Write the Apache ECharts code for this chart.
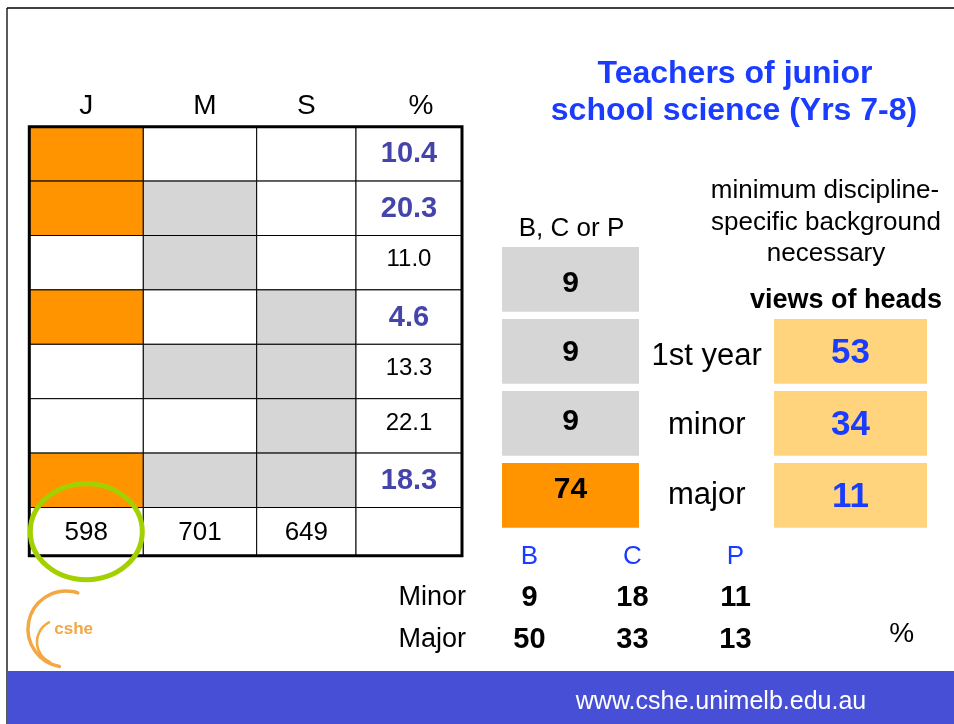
<!DOCTYPE html>
<html lang="en">
<head>
<meta charset="UTF-8">
<title>Teachers of junior school science (Yrs 7-8)</title>
<style>
  html, body { margin: 0; padding: 0; background: #fff; }
  #chart { width: 954px; height: 724px; }
</style>
<script src="https://cdn.jsdelivr.net/npm/echarts@6.0.0/dist/echarts.min.js"></script>
</head>
<body>
<div id="chart"></div>
<script>
// left table: which of J / M / S each group of teachers studied, and its share
var columns = ['J', 'M', 'S', '%'];
var hasJ = [1, 1, 0, 1, 0, 0, 1];
var hasM = [0, 1, 1, 0, 1, 0, 1];
var hasS = [0, 0, 0, 1, 1, 1, 1];
var percents = [10.4, 20.3, 11.0, 4.6, 13.3, 22.1, 18.3];
var totals = [598, 701, 649];
var circled = [[0, 7]];

// middle: B, C or P background and the heads' views
var levels = ['', '1st year', 'minor', 'major'];
var bcpValues = [9, 9, 9, 74];
var headViews = [null, 53, 34, 11];

// bottom: split by subject
var subjects = ['B', 'C', 'P'];
var studyLevels = ['Minor', 'Major'];
var minorPct = [9, 18, 11];
var majorPct = [50, 33, 13];

// look
var FONT = '"Liberation Sans", Arial, sans-serif';
var ORANGE = '#FF9400', GREY = '#D6D6D6', PALE = '#FFD47C';
var BLUE = '#1A3CFF', INDIGO = '#4444AA', LOGO = '#F3A843';

var colWidths = [114, 113.4, 99.3, 106];
var rowHeights = [54.4, 54.4, 54.4, 54.4, 54.4, 54.4, 54.4, 48.3];
var headerShift = [0, 5, 0, 12];
var bcpShift = [4, 1, -2, -6];      // text nudges inside the grey boxes
var labelShift = [0, 5, 2, 0];
function edges(a) {
    var e = [0];
    a.forEach(function (v) { e.push(e[e.length - 1] + v); });
    return e;
}
var colEdges = edges(colWidths), rowEdges = edges(rowHeights);
var tableW = colEdges[colEdges.length - 1], tableH = rowEdges[rowEdges.length - 1];

function font(size, bold) {
    return (bold ? 'bold ' : '') + size + 'px ' + FONT;
}

var tableCells = [];
columns.forEach(function (name, c) {
    tableCells.push([c, -1]);
    for (var r = 0; r < rowHeights.length; r++) tableCells.push([c, r]);
});

function renderTable(params, api) {
    var c = api.value(0), r = api.value(1);
    var x0 = colEdges[c], x1 = colEdges[c + 1];
    if (r < 0) {
        var p = api.coord([(x0 + x1) / 2, -20.5]);
        return {
            type: 'text', x: p[0] + headerShift[c], y: p[1],
            style: { text: columns[c], font: font(28), fill: '#000', align: 'center', verticalAlign: 'middle' }
        };
    }
    var a = api.coord([x0, rowEdges[r]]), b = api.coord([x1, rowEdges[r + 1]]);
    var fill = '#fff', text = '', f = font(26), color = '#000', dy = 1;
    if (r < 7) {
        if (c === 0 && hasJ[r]) fill = ORANGE;
        if (c === 1 && hasM[r]) fill = GREY;
        if (c === 2 && hasS[r]) fill = GREY;
        if (c === 3) {
            text = percents[r].toFixed(1);
            if (hasJ[r]) { f = font(29, true); color = INDIGO; dy = 0.5; } else { f = font(24); dy = -3; }
        }
    } else if (c < 3) {
        text = String(totals[c]);
    }
    return {
        type: 'group',
        children: [
            { type: 'rect', shape: { x: a[0], y: a[1], width: b[0] - a[0], height: b[1] - a[1] },
              style: { fill: fill, stroke: '#000', lineWidth: 1 } },
            { type: 'text', x: (a[0] + b[0]) / 2, y: (a[1] + b[1]) / 2 + dy,
              style: { text: text, font: f, fill: color, align: 'center', verticalAlign: 'middle' } }
        ]
    };
}

function renderFrame(params, api) {
    var a = api.coord([0, 0]), b = api.coord([tableW, tableH]);
    return { type: 'rect', shape: { x: a[0], y: a[1], width: b[0] - a[0], height: b[1] - a[1] },
             style: { fill: null, stroke: '#000', lineWidth: 3 } };
}

function renderCircle(params, api) {
    var c = api.value(0), r = api.value(1);
    var p = api.coord([(colEdges[c] + colEdges[c + 1]) / 2, (rowEdges[r] + rowEdges[r + 1]) / 2]);
    return { type: 'ellipse', shape: { cx: p[0], cy: p[1], rx: 56, ry: 48 },
             style: { fill: null, stroke: '#A3D100', lineWidth: 5 } };
}

// middle panel, x in px-like units from the grey column's left edge
var greyBox = [0, 137], paleBox = [272, 425], labelX = 204.7;
var levelRows = levels.map(function (l, i) { return [i]; });

function renderLevels(params, api) {
    var r = api.value(0);
    var h = api.size([0, 1])[1] * 0.9;
    var g0 = api.coord([greyBox[0], r]), g1 = api.coord([greyBox[1], r]);
    var kids = [
        { type: 'rect', shape: { x: g0[0], y: g0[1] - h / 2, width: g1[0] - g0[0], height: h },
          style: { fill: r === 3 ? ORANGE : GREY } },
        { type: 'text', x: (g0[0] + g1[0]) / 2, y: g0[1] + bcpShift[r],
          style: { text: String(bcpValues[r]), font: font(30, true), fill: '#000', align: 'center', verticalAlign: 'middle' } }
    ];
    if (headViews[r] != null) {
        var l = api.coord([labelX, r]);
        var p0 = api.coord([paleBox[0], r]), p1 = api.coord([paleBox[1], r]);
        kids.push(
            { type: 'text', x: l[0], y: l[1] + labelShift[r],
              style: { text: levels[r], font: font(31), fill: '#000', align: 'center', verticalAlign: 'middle' } },
            { type: 'rect', shape: { x: p0[0], y: p0[1] - h / 2, width: p1[0] - p0[0], height: h },
              style: { fill: PALE } },
            { type: 'text', x: (p0[0] + p1[0]) / 2, y: p0[1] + 2,
              style: { text: String(headViews[r]), font: font(35, true), fill: BLUE, align: 'center', verticalAlign: 'middle' } }
        );
    }
    return { type: 'group', children: kids };
}

var splitCells = [];
subjects.forEach(function (s, c) {
    splitCells.push([c, 0, minorPct[c]]);
    splitCells.push([c, 1, majorPct[c]]);
});

function renderSplit(params, api) {
    var p = api.coord([api.value(0), api.value(1)]);
    return { type: 'text', x: p[0], y: p[1],
             style: { text: String(api.value(2)), font: font(29, true), fill: '#000', align: 'center', verticalAlign: 'middle' } };
}

function label(text, x, y, f, color) {
    return { type: 'text', x: x, y: y,
             style: { text: text, font: f, fill: color || '#000', align: 'center', verticalAlign: 'middle' } };
}

var hidden = { show: false };

var chart = echarts.init(document.getElementById('chart'), null, { renderer: 'canvas' });
chart.setOption({
    backgroundColor: '#fff',
    animation: false,
    grid: [
        { left: 29.3, top: 126.7, width: tableW, height: tableH },
        { left: 502, top: 243.35, width: 425, height: 288 },
        { left: 478, top: 576.5, width: 309, height: 84 }
    ],
    xAxis: [
        { gridIndex: 0, type: 'value', min: 0, max: tableW, show: false },
        { gridIndex: 1, type: 'value', min: 0, max: 425, show: false },
        { gridIndex: 2, type: 'category', data: subjects, position: 'top',
          axisLine: hidden, axisTick: hidden, splitLine: hidden,
          axisLabel: { color: BLUE, fontSize: 26, fontFamily: FONT, margin: 6.5 } }
    ],
    yAxis: [
        { gridIndex: 0, type: 'value', min: 0, max: tableH, inverse: true, show: false },
        { gridIndex: 1, type: 'category', data: levels, inverse: true, show: false },
        { gridIndex: 2, type: 'category', data: studyLevels, inverse: true,
          axisLine: hidden, axisTick: hidden, splitLine: hidden,
          axisLabel: { color: '#000', fontSize: 27, fontFamily: FONT, margin: 12 } }
    ],
    series: [
        { type: 'custom', name: 'table', xAxisIndex: 0, yAxisIndex: 0, data: tableCells, renderItem: renderTable },
        { type: 'custom', name: 'frame', xAxisIndex: 0, yAxisIndex: 0, data: [[0]], renderItem: renderFrame },
        { type: 'custom', name: 'circled', xAxisIndex: 0, yAxisIndex: 0, data: circled, renderItem: renderCircle },
        { type: 'custom', name: 'levels', xAxisIndex: 1, yAxisIndex: 1, data: levelRows, renderItem: renderLevels },
        { type: 'custom', name: 'split', xAxisIndex: 2, yAxisIndex: 2, data: splitCells, renderItem: renderSplit }
    ],
    graphic: [
        // slide frame and footer
        { type: 'line', shape: { x1: 7, y1: 8, x2: 954, y2: 8 }, style: { stroke: '#000', lineWidth: 1.3 } },
        { type: 'line', shape: { x1: 7, y1: 8, x2: 7, y2: 724 }, style: { stroke: '#000', lineWidth: 1.3 } },
        { type: 'rect', shape: { x: 7, y: 671, width: 947, height: 53 }, style: { fill: '#464FD6' } },
        label('www.cshe.unimelb.edu.au', 721, 702.5, font(25), '#fff'),
        // titles and labels
        label('Teachers of junior', 735, 74, font(32, true), BLUE),
        label('school science (Yrs 7-8)', 734, 111.5, font(32, true), BLUE),
        label('minimum discipline-', 825, 191, font(26)),
        label('specific background', 826, 222.5, font(26)),
        label('necessary', 826, 254, font(26)),
        label('views of heads', 846, 301, font(27, true)),
        label('B, C or P', 571.5, 229, font(26)),
        label('%', 901.6, 634, font(28)),
        // cshe logo
        { type: 'arc', shape: { cx: 66, cy: 629, r: 38, startAngle: 100 * Math.PI / 180, endAngle: 288 * Math.PI / 180, clockwise: true },
          style: { stroke: LOGO, lineWidth: 3.5, fill: null, lineCap: 'round' } },
        { type: 'arc', shape: { cx: 59, cy: 642, r: 22, startAngle: 115 * Math.PI / 180, endAngle: 243 * Math.PI / 180, clockwise: true },
          style: { stroke: LOGO, lineWidth: 2.5, fill: null, lineCap: 'round' } },
        label('cshe', 73.7, 629, font(17, true), LOGO)
    ]
});
</script>
</body>
</html>
